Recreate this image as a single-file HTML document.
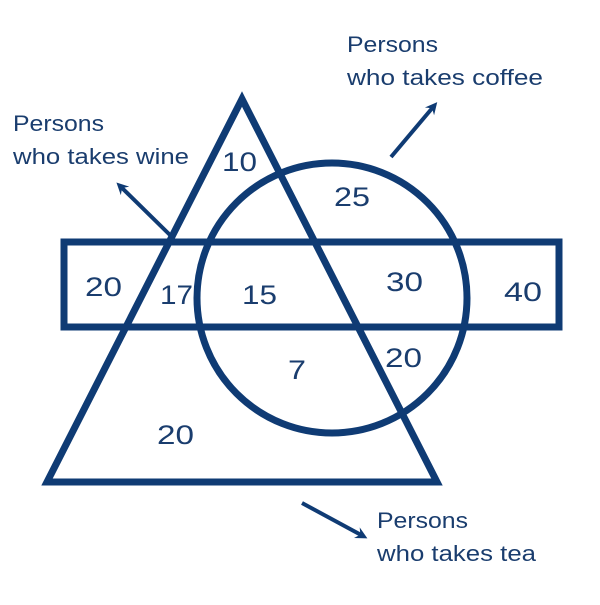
<!DOCTYPE html>
<html><head><style>body{margin:0;background:#fff}</style></head><body>
<svg width="600" height="600" viewBox="0 0 600 600" xmlns="http://www.w3.org/2000/svg" font-family="Liberation Sans, sans-serif" fill="#1a3d6e">
<defs><marker id="a" markerWidth="14" markerHeight="14" refX="7" refY="7" orient="auto" markerUnits="userSpaceOnUse"><path d="M0,1 L12,7 L0,13 L4,7 z" fill="#0f3b74"/></marker></defs>
<g fill="none" stroke="#0f3b74" stroke-width="7">
<polygon points="242,99 47,482 437,482" stroke-linejoin="miter"/>
<circle cx="332" cy="298" r="135"/>
<rect x="64" y="242" width="495" height="85"/>
</g>
<g stroke="#0f3b74" stroke-width="4" fill="none">
<line x1="391" y1="157" x2="434" y2="106" marker-end="url(#a)"/>
<line x1="170" y1="235" x2="120" y2="186" marker-end="url(#a)"/>
<line x1="302" y1="503" x2="363" y2="536" marker-end="url(#a)"/>
</g>
<g font-size="27">
<text x="222" y="171" textLength="35" lengthAdjust="spacingAndGlyphs">10</text>
<text x="334" y="206" textLength="36" lengthAdjust="spacingAndGlyphs">25</text>
<text x="85" y="296" textLength="37" lengthAdjust="spacingAndGlyphs">20</text>
<text x="160" y="304" textLength="33" lengthAdjust="spacingAndGlyphs">17</text>
<text x="242" y="304" textLength="35" lengthAdjust="spacingAndGlyphs">15</text>
<text x="386" y="291" textLength="37" lengthAdjust="spacingAndGlyphs">30</text>
<text x="504" y="301" textLength="38" lengthAdjust="spacingAndGlyphs">40</text>
<text x="288" y="379" textLength="18" lengthAdjust="spacingAndGlyphs">7</text>
<text x="385" y="367" textLength="37" lengthAdjust="spacingAndGlyphs">20</text>
<text x="157" y="444" textLength="37" lengthAdjust="spacingAndGlyphs">20</text>
</g>
<g font-size="22">
<text x="347" y="52" textLength="91" lengthAdjust="spacingAndGlyphs">Persons</text>
<text x="347" y="85" textLength="196" lengthAdjust="spacingAndGlyphs">who takes coffee</text>
<text x="13" y="131" textLength="91" lengthAdjust="spacingAndGlyphs">Persons</text>
<text x="13" y="164" textLength="176" lengthAdjust="spacingAndGlyphs">who takes wine</text>
<text x="377" y="528" textLength="91" lengthAdjust="spacingAndGlyphs">Persons</text>
<text x="377" y="561" textLength="159" lengthAdjust="spacingAndGlyphs">who takes tea</text>
</g>
</svg>
</body></html>
